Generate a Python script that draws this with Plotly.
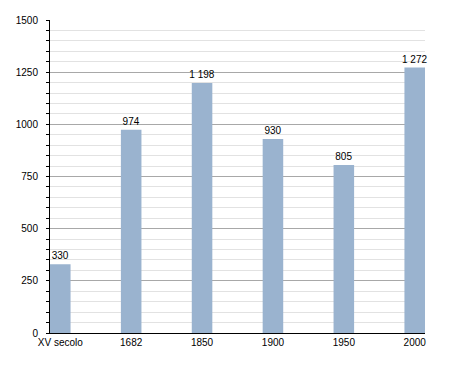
import plotly.graph_objects as go

categories = ["XV secolo", "1682", "1850", "1900", "1950", "2000"]
values = [330, 974, 1198, 930, 805, 1272]
y_ticks = [0, 250, 500, 750, 1000, 1250, 1500]

labels = [f"{v:,}".replace(",", " ") for v in values]

fig = go.Figure(go.Bar(
    x=list(range(len(categories))),
    y=values,
    text=labels,
    textposition="outside",
    constraintext="none",
    cliponaxis=False,
    textfont=dict(family="Liberation Sans, Arial", size=10, color="black"),
    marker=dict(color="#9ab3cf", line=dict(width=0)),
    width=0.29,
))

fig.update_layout(
    width=455, height=373,
    margin=dict(l=50, r=30, t=20, b=40),
    plot_bgcolor="white", paper_bgcolor="white",
    showlegend=False,
    font=dict(family="Liberation Sans, Arial", size=10, color="black"),
)
fig.update_xaxes(
    tickmode="array", tickvals=list(range(len(categories))), ticktext=categories,
    range=[-0.145, 5.145],
    showline=True, linecolor="black", linewidth=1,
    showgrid=False, ticks="", zeroline=False,
    tickfont=dict(size=10, color="black"),
)
fig.update_yaxes(
    range=[0, 1500],
    tickmode="array", tickvals=y_ticks,
    showline=True, linecolor="black", linewidth=1,
    showgrid=True, gridcolor="#a8a8a8", gridwidth=1,
    ticks="outside", ticklen=3, tickcolor="black",
    minor=dict(dtick=50, showgrid=True, gridcolor="#e2e2e2", gridwidth=1,
               ticks="outside", ticklen=3, tickcolor="black"),
    zeroline=False,
    tickfont=dict(size=10, color="black"),
    ticklabelstandoff=6,
)

fig.write_html("out.html")
